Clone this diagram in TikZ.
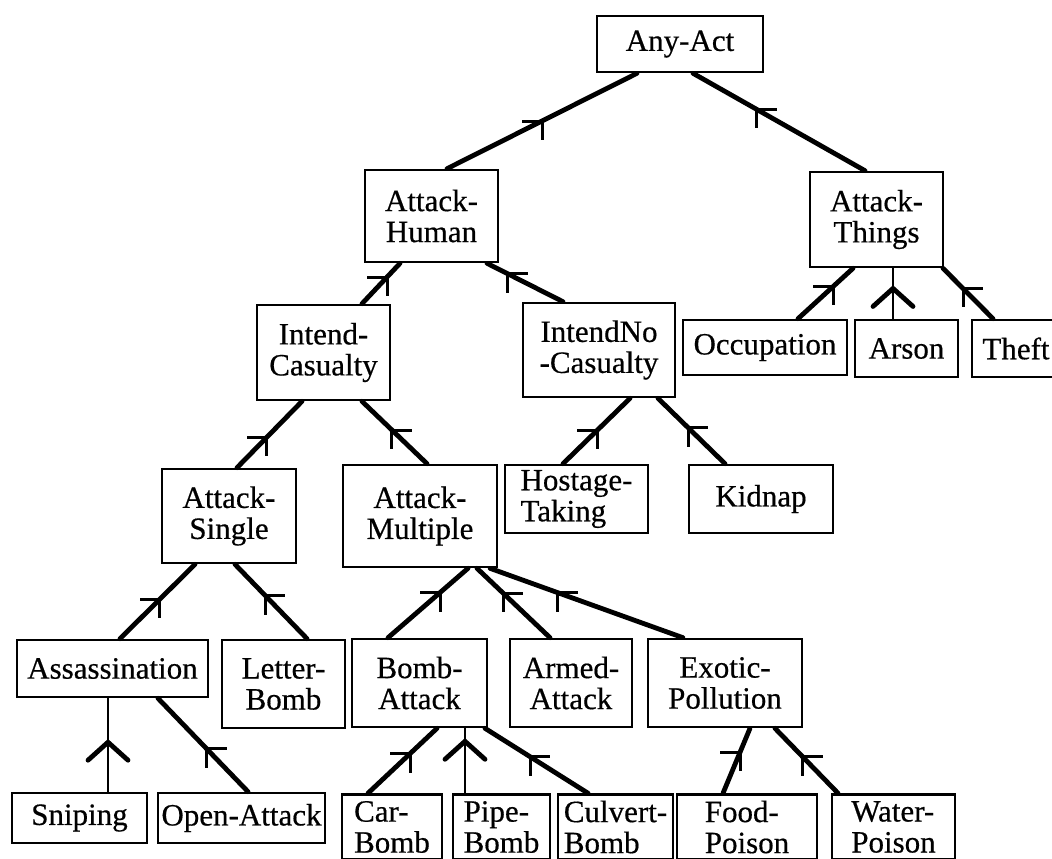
\documentclass[tikz,border=0pt]{standalone}
\usepackage{fontspec}
\setmainfont{Liberation Serif}
\newfontfamily\boxfont[FakeBold=0.5]{Liberation Serif}
\newcommand\mkL[1]{\draw[mk] (#1) -- ++(-20,0) (#1) -- ++(0,19);}
\newcommand\mkR[1]{\draw[mk] (#1) -- ++(20,0) (#1) -- ++(0,19);}
\newcommand\mkV[1]{\draw[chev] ([shift={(-20,18)}]#1) -- (#1) -- ([shift={(20,18)}]#1);}
\begin{document}
\begin{tikzpicture}[x=1pt,y=-1pt,
  box/.style={draw=black,line width=2.6pt,inner sep=1pt,align=center,
    font=\boxfont\fontsize{31}{31}\selectfont},
  conn/.style={line width=4.8pt,line cap=round},
  thin/.style={line width=1.8pt},
  mk/.style={line width=3pt},
  chev/.style={line width=4.8pt,line cap=round}]
\useasboundingbox (0,0) rectangle (1052,859);
% boxes
\node[box,minimum width=166,minimum height=56] (anyact) at (680,44) {Any-Act};
\node[box,minimum width=133,minimum height=92] (ahuman) at (431.5,216) {Attack-\\Human};
\node[box,minimum width=133,minimum height=95] (athings) at (876.5,219.5) {Attack-\\Things};
\node[box,minimum width=133,minimum height=95] (icas) at (323.5,352.5) {Intend-\\Casualty};
\node[box,minimum width=152,minimum height=94] (inocas) at (599,350) {IntendNo\\-Casualty};
\node[box,minimum width=164,minimum height=55] (occ) at (765,347.5) {Occupation};
\node[box,minimum width=103,minimum height=57] (arson) at (906.5,348.5) {Arson};
\node[box,minimum width=88,minimum height=57] (theft) at (1016,348.5) {Theft};
\node[box,minimum width=134,minimum height=94] (asingle) at (229,516) {Attack-\\Single};
\node[box,minimum width=154,minimum height=102] (amult) at (420,516) {Attack-\\Multiple};
\node[box,align=left,minimum width=143,minimum height=68,inner ysep=0pt] (hostage) at (576.5,499) {Hostage-\\Taking};
\node[box,minimum width=144,minimum height=68] (kidnap) at (761,499) {Kidnap};
\node[box,minimum width=191,minimum height=57] (assas) at (112.5,668.5) {Assassination};
\node[box,minimum width=123,minimum height=88] (letter) at (283.5,684) {Letter-\\Bomb};
\node[box,minimum width=135,minimum height=88] (bomb) at (419.5,683) {Bomb-\\Attack};
\node[box,minimum width=122,minimum height=88] (armed) at (571,683) {Armed-\\Attack};
\node[box,minimum width=154,minimum height=88] (exotic) at (725,683) {Exotic-\\Pollution};
\node[box,minimum width=135,minimum height=50] (snip) at (79.5,818) {Sniping};
\node[box,minimum width=167,minimum height=50] (open) at (241.5,818) {Open-Attack};
\node[box,align=left,minimum width=100,minimum height=65,inner ysep=0pt] (car) at (392,827) {Car-\\Bomb};
\node[box,align=left,minimum width=97,minimum height=65,inner ysep=0pt] (pipe) at (501.5,827) {Pipe-\\Bomb};
\node[box,align=left,minimum width=115,minimum height=65,inner ysep=0pt] (culvert) at (615.5,827) {Culvert-\\Bomb};
\node[box,align=left,minimum width=140,minimum height=65,inner ysep=0pt] (food) at (747,827) {Food-\\Poison};
\node[box,align=left,minimum width=123,minimum height=65,inner ysep=0pt] (water) at (893.5,827) {Water-\\Poison};
% connectors
\draw[conn] ([xshift=-43]anyact.south) -- coordinate[pos=0.5] (m1) ([xshift=15.5]ahuman.north);
\draw[conn] ([xshift=13]anyact.south) -- coordinate[pos=0.37] (m2) ([xshift=-11.5]athings.north);
\draw[conn] ([xshift=-31.5]ahuman.south) -- coordinate[pos=0.34] (m3) ([xshift=38.5]icas.north);
\draw[conn] ([xshift=55.5]ahuman.south) -- coordinate[pos=0.27] (m4) ([xshift=-36]inocas.north);
\draw[conn] ([xshift=-21.5]icas.south) -- coordinate[pos=0.54] (m5) ([xshift=8]asingle.north);
\draw[conn] ([xshift=38.5]icas.south) -- coordinate[pos=0.46] (m6) ([xshift=7]amult.north);
\draw[conn] ([xshift=31]inocas.south) -- coordinate[pos=0.49] (m7) ([xshift=-13.5]hostage.north);
\draw[conn] ([xshift=59]inocas.south) -- coordinate[pos=0.45] (m8) ([xshift=-36]kidnap.north);
\draw[conn] ([xshift=-34]asingle.south) -- coordinate[pos=0.47] (m9) ([xshift=7.5]assas.north);
\draw[conn] ([xshift=6]asingle.south) -- coordinate[pos=0.42] (m10) ([xshift=23.5]letter.north);
\draw[thin] ([xshift=-4.5]assas.south) -- coordinate[pos=0.47] (m11) ([xshift=28.5]snip.north);
\draw[conn] ([xshift=45.5]assas.south) -- coordinate[pos=0.54] (m12) ([xshift=6.5]open.north);
\draw[conn] ([xshift=48]amult.south) -- coordinate[pos=0.35] (m13) ([xshift=-31.5]bomb.north);
\draw[conn] ([xshift=57]amult.south) -- coordinate[pos=0.36] (m14) ([xshift=-21]armed.north);
\draw[conn] ([xshift=70]amult.south) -- coordinate[pos=0.35] (m15) ([xshift=-42]exotic.north);
\draw[conn] ([xshift=17.5]bomb.south) -- coordinate[pos=0.39] (m16) ([xshift=-24]car.north);
\draw[thin] ([xshift=45.5]bomb.south) -- coordinate[pos=0.2] (m17) ([xshift=-36.5]pipe.north);
\draw[conn] ([xshift=65.5]bomb.south) -- coordinate[pos=0.44] (m18) ([xshift=-27.5]culvert.north);
\draw[conn] ([xshift=25]exotic.south) -- coordinate[pos=0.37] (m19) ([xshift=-24]food.north);
\draw[conn] ([xshift=50]exotic.south) -- coordinate[pos=0.44] (m20) ([xshift=-55.5]water.north);
\draw[conn] ([xshift=-23.5]athings.south) -- coordinate[pos=0.36] (m21) ([xshift=33]occ.north);
\draw[thin] ([xshift=16.5]athings.south) -- coordinate[pos=0.4] (m22) ([xshift=-13.5]arson.north);
\draw[conn] ([xshift=66.5]athings.south) -- coordinate[pos=0.4] (m23) ([xshift=-23]theft.north);
% arrow marks
\mkL{m1} \mkR{m2} \mkL{m3} \mkR{m4} \mkL{m5} \mkR{m6} \mkL{m7} \mkR{m8}
\mkL{m9} \mkR{m10} \mkV{m11} \mkR{m12} \mkL{m13} \mkR{m14} \mkR{m15}
\mkL{m16} \mkV{m17} \mkR{m18} \mkL{m19} \mkR{m20} \mkL{m21} \mkV{m22} \mkR{m23}
\end{tikzpicture}
\end{document}
